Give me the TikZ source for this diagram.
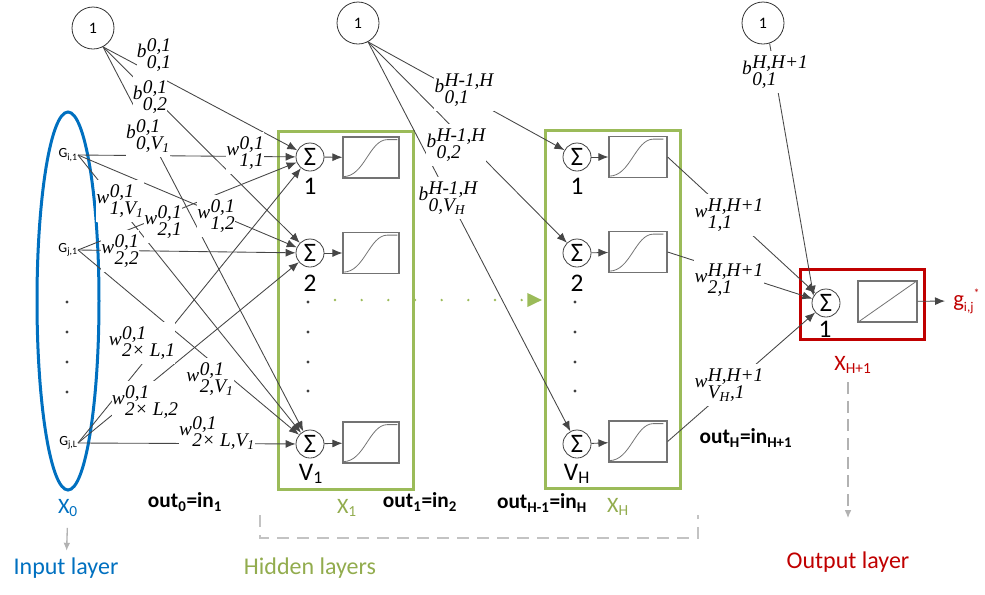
\documentclass[tikz,border=0pt]{standalone}
\usepackage{fontspec}
\setmainfont{Carlito}
\newfontfamily\serlab{Liberation Serif}
\usetikzlibrary{arrows.meta}
\definecolor{myblue}{RGB}{0,112,192}
\definecolor{mygreen}{RGB}{155,187,89}
\definecolor{mygtext}{RGB}{146,172,78}
\definecolor{myred}{RGB}{192,0,0}
\definecolor{wgray}{RGB}{70,70,70}
\definecolor{lgray}{RGB}{195,195,195}
\newcommand\wl[3]{{\serlab\itshape #1\kern0.02em\raisebox{-8pt}{\begin{tabular}[b]{@{}l@{}}#2\\[-4.5pt]#3\end{tabular}}}}
\newcommand\sigcurve[1]{\begin{scope}[shift={(#1.south west)}]\draw[sigline] (1,-2) .. controls (22,-2) and (27,-39) .. (45,-39) -- (55,-39);\end{scope}}
\begin{document}
\begin{tikzpicture}[x=0.75pt,y=-0.75pt,
 wline/.style={draw=wgray,line width=0.65pt,-{Latex[length=7.5pt,width=6pt]}},
 lab/.style={fill=white,inner sep=0.2pt,font=\fontsize{14.5}{17.5}\selectfont},
 sumn/.style={circle,draw=black!75,line width=0.6pt,fill=white,minimum size=21pt,inner sep=0pt,font=\fontsize{20}{22}\selectfont},
 actbox/.style={draw=black!55,line width=0.9pt,fill=white,minimum width=42pt,minimum height=30.75pt,inner sep=0pt},
 sigline/.style={draw=black!55,line width=0.6pt},
 biasn/.style={circle,draw=black!80,line width=0.6pt,fill=white,minimum size=31.5pt,inner sep=0pt,font=\fontsize{12}{14}\selectfont},
 numl/.style={font=\fontsize{19}{21}\selectfont,inner sep=0pt},
 glab/.style={font=\fontsize{10.5}{12}\selectfont,inner sep=0pt,anchor=east},
 outl/.style={font=\bfseries\fontsize{16}{19}\selectfont,inner sep=0pt},
 xl/.style={font=\fontsize{16.5}{19}\selectfont,inner sep=0pt},
 capl/.style={font=\fontsize{18}{22}\selectfont,inner sep=0pt},
 dotn/.style={circle,fill=black!75,inner sep=0pt,minimum size=2.4pt},
 layerbox/.style={draw=mygreen,line width=2.25pt},
 brack/.style={draw=lgray,line width=1.2pt,dash pattern=on 9pt off 6pt},
 garrow/.style={draw=black!30,line width=1pt,-{Latex[length=6pt,width=5pt]}},
]
\useasboundingbox (0,0) rectangle (985,594);
% containers
\draw[layerbox] (278,131) rectangle (413,489);
\draw[layerbox] (545,130) rectangle (680,488);
\draw[draw=myred,line width=2.25pt] (800,269) rectangle (924,339);
\draw[myblue,line width=2.25pt] (68,301) ellipse [x radius=23.25pt,y radius=141.75pt];
% bias nodes
\node[biasn] (bA) at (93,28) {1};
\node[biasn] (bB) at (358,23) {1};
\node[biasn] (bC) at (763,23) {1};
% inputs
\node[glab] (gi1) at (78,155) {G\textsubscript{i,1}};
\node[glab] (gj1) at (78,250) {G\textsubscript{j,1}};
\node[glab] (gjL) at (78,443) {G\textsubscript{j,L}};
\foreach \yy [count=\k] in {302,332,362,392} {\node[dotn] (di\k) at (67,\yy) {};}
% layer 1
\node[sumn] (s11) at (310,157) {Σ};
\node[sumn] (s12) at (310,253) {Σ};
\node[sumn] (s1V) at (310,444) {Σ};
\node[actbox] (f11) at (371,157.5) {};
\node[actbox] (f12) at (371,253) {};
\node[actbox] (f1V) at (371,442.5) {};
\node[numl] (n11) at (310,186) {1};
\node[numl] (n12) at (310,283) {2};
\node[numl] (n1V) at (311,474) {V\textsubscript{1}};
\foreach \yy [count=\k] in {302,332,362,391} {\node[dotn] (d1\k) at (308,\yy) {};}
% layer H
\node[sumn] (sH1) at (577,157) {Σ};
\node[sumn] (sH2) at (577,253) {Σ};
\node[sumn] (sHV) at (577,444) {Σ};
\node[actbox,minimum width=43.5pt] (fH1) at (638,157) {};
\node[actbox,minimum width=43.5pt] (fH2) at (638,252) {};
\node[actbox,minimum width=43.5pt] (fHV) at (638,441.5) {};
\node[numl] (nH1) at (577,186) {1};
\node[numl] (nH2) at (577,283) {2};
\node[numl] (nHV) at (577,474) {V\textsubscript{H}};
\foreach \yy [count=\k] in {302,332,362,391} {\node[dotn] (dH\k) at (575,\yy) {};}
% output
\node[sumn] (so) at (826,303) {Σ};
\node[actbox,minimum width=44.25pt] (fo) at (887.5,301.5) {};
\node[numl] (no) at (825,329) {1};
\node[font=\fontsize{17}{20}\selectfont,text=myred,anchor=west,inner sep=0pt] (gout) at (953,301) {g\raisebox{-3.5pt}{\fontsize{10}{10}\selectfont i,j}\raisebox{7pt}{\fontsize{9}{9}\selectfont *}};
% curves
\sigcurve{f11}\sigcurve{f12}\sigcurve{f1V}
\sigcurve{fH1}\sigcurve{fH2}\sigcurve{fHV}
\draw[sigline] (fo.south west) -- (fo.north east);
% input connections
\foreach \g in {gi1,gj1,gjL} {\foreach \s in {s11,s12,s1V} {\draw[wline] (\g.east) -- (\s);}}
\foreach \s in {s11,s12,s1V} {\draw[wline] (bA.-62) -- (\s);}
\foreach \s in {sH1,sH2,sHV} {\draw[wline] (bB.-62) -- (\s);}
\foreach \f in {fH1,fH2,fHV} {\draw[wline] (\f.east) -- (so);}
\draw[wline] (bC.-72) -- (so.150);
% internal arrows
\draw[wline] (s11) -- (f11);
\draw[wline] (s12) -- (f12);
\draw[wline] (s1V) -- (f1V);
\draw[wline] (sH1) -- (fH1);
\draw[wline] (sH2) -- (fH2);
\draw[wline] (sHV) -- (fHV);
\draw[wline,shorten >=6pt] (fo) -- (gout.west);
% green dotted arrow
\coordinate (gd1) at (335,300);
\coordinate (gd2) at (542,300);
\draw[mygreen,line width=2pt,line cap=round,dash pattern=on 0pt off 20pt,-{Triangle[length=11pt,width=10pt]}] (gd1) -- (gd2);
% weight labels
\node[lab] (lb1) at (154,55) {\wl{b}{0,1}{0,1}};
\node[lab] (lb2) at (150,97) {\wl{b}{0,1}{0,2}};
\node[lab] (lb3) at (148,136) {\wl{b}{0,1}{0,V\textsubscript{1}}};
\node[lab] (lw11) at (245,153) {\wl{w}{0,1}{1,1}};
\node[lab] (lw21) at (163,222) {\wl{w}{0,1}{2,1}};
\node[lab] (lw1V) at (120,201) {\wl{w}{0,1}{1,V\textsubscript{1}}};
\node[lab] (lw12) at (216,216) {\wl{w}{0,1}{1,2}};
\node[lab] (lw22) at (120,251) {\wl{w}{0,1}{2,2}};
\node[lab] (lwL1) at (142,343) {\wl{w}{0,1}{2× L,1}};
\node[lab] (lw2V) at (210,379) {\wl{w}{0,1}{2,V\textsubscript{1}}};
\node[lab] (lwL2) at (145,402) {\wl{w}{0,1}{2× L,2}};
\node[lab] (lwLV) at (217,433) {\wl{w}{0,1}{2× L,V\textsubscript{1}}};
\node[lab] (lbH1) at (464,90) {\wl{b}{H-1,H}{0,1}};
\node[lab] (lbH2) at (456,145) {\wl{b}{H-1,H}{0,2}};
\node[lab] (lbH3) at (448,198) {\wl{b}{H-1,H}{0,V\textsubscript{H}}};
\node[lab] (lo1) at (729,215) {\wl{w}{H,H+1}{1,1}};
\node[lab] (lo2) at (729,280) {\wl{w}{H,H+1}{2,1}};
\node[lab] (lo3) at (729,385) {\wl{w}{H,H+1}{V\textsubscript{H},1}};
\node[lab] (lob) at (775,72) {\wl{b}{H,H+1}{0,1}};
% bottom texts
\node[xl,text=myblue] (x0) at (68,508) {X\textsubscript{0}};
\node[capl,text=myblue] (inl) at (66,568) {Input layer};
\draw[garrow,shorten <=8pt,shorten >=5pt] (x0) -- (inl);
\node[outl] (o0) at (185,502) {out\textsubscript{0}=in\textsubscript{1}};
\node[xl,text=mygtext] (x1) at (347,508) {X\textsubscript{1}};
\node[outl] (o1) at (420,502) {out\textsubscript{1}=in\textsubscript{2}};
\node[outl] (oH1) at (542,503) {out\textsubscript{H-1}=in\textsubscript{H}};
\node[xl,text=mygtext] (xH) at (618,507) {X\textsubscript{H}};
\node[capl,text=mygtext] (hid) at (310,568) {Hidden layers};
\draw[brack] (260,515) -- (260,538) -- (698,538) -- (698,515);
\node[outl] (oH) at (746,438) {out\textsubscript{H}=in\textsubscript{H+1}};
\node[xl,text=myred] (xo) at (853,365) {X\textsubscript{H+1}};
\node[capl,text=myred] (outlay) at (848,562) {Output layer};
\draw[garrow,dash pattern=on 9pt off 5pt,shorten <=6pt,shorten >=25pt] (xo.south -| outlay.north) -- (outlay.north);
\end{tikzpicture}
\end{document}
